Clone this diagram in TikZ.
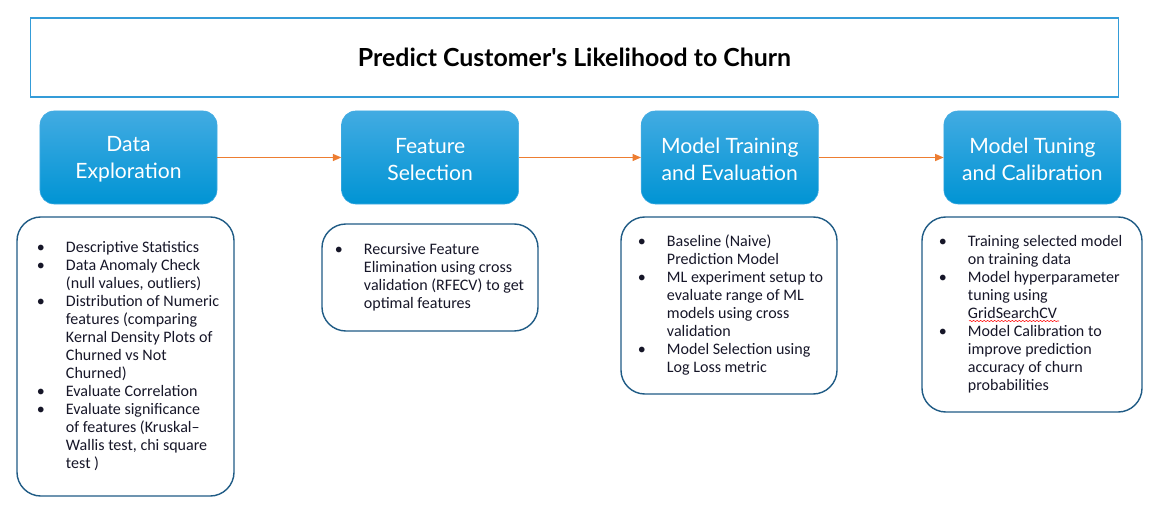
\documentclass[tikz,border=0pt]{standalone}
\usepackage{fontspec}
\setmainfont{Carlito}
\newfontfamily\headfont{Lato}
\usetikzlibrary{arrows.meta,positioning,decorations.pathmorphing}

\definecolor{stageTop}{RGB}{66,171,226}
\definecolor{stageBot}{RGB}{0,148,212}
\definecolor{frameblue}{RGB}{31,91,133}
\definecolor{titleblue}{RGB}{52,156,216}
\definecolor{flowarrow}{RGB}{237,125,49}
\definecolor{bodytext}{RGB}{22,22,40}

% bullet list set as a two-column table of fixed width
\newcommand{\steplist}[2]{\makebox[#1][l]{\begin{tabular}{@{}p{0.725cm}@{}l@{}}#2\end{tabular}}}

\begin{document}
\begin{tikzpicture}[x=0.025cm, y=-0.025cm,
    titlebox/.style={draw=titleblue, line width=0.8pt, minimum width=27.175cm, minimum height=1.975cm,
        font=\headfont\bfseries\fontsize{17.7}{21}\selectfont},
    stage/.style={rounded corners=0.35cm, top color=stageTop, bottom color=stageBot, draw=stageTop,
        minimum width=4.425cm, minimum height=2.325cm, text=white, align=center,
        font=\headfont\fontsize{15}{19}\selectfont},
    detail/.style={draw=frameblue, line width=1pt, rounded corners=0.6cm, inner sep=0pt,
        text=bodytext, font=\fontsize{11.4}{12.8}\selectfont},
    flow/.style={-{Triangle[length=6pt,width=5pt]}, draw=flowarrow, line width=0.8pt}
]
    \useasboundingbox (0,0) rectangle (1160,517);

    % Title
    \node[titlebox] (title) at (574.5,57.5) {Predict Customer's Likelihood to Churn};

    % Stages
    \node[stage] (explore) at (128.5,157.5) {\strut Data\\Exploration};
    \node[stage, right=3.1cm of explore] (select) {\strut Feature\\Selection};
    \node[stage, right=3.05cm of select] (train) {\strut Model Training\\and Evaluation};
    \node[stage, right=3.125cm of train] (tune) {\strut Model Tuning\\and Calibration};

    \draw[flow] (explore) -- (select);
    \draw[flow] (select) -- (train);
    \draw[flow] (train) -- (tune);

    % Details under each stage
    \node[detail, minimum width=5.425cm, minimum height=6.975cm] (exploreinfo) at (125.5,356.5) {\steplist{4.425cm}{%
        \textbullet & Descriptive Statistics\\
        \textbullet & Data Anomaly Check\\
                    & (null values, outliers)\\
        \textbullet & Distribution of Numeric\\
                    & features (comparing\\
                    & Kernal Density Plots of\\
                    & Churned vs Not\\
                    & Churned)\\
        \textbullet & Evaluate Correlation\\
        \textbullet & Evaluate significance\\
                    & of features (Kruskal–\\
                    & Wallis test, chi square\\
                    & test )}};

    \node[detail, minimum width=5.4cm, minimum height=2.675cm] (selectinfo) at (430,277.5) {\steplist{4.75cm}{%
        \textbullet & Recursive Feature\\
                    & Elimination using cross\\
                    & validation (RFECV) to get\\
                    & optimal features}};

    \node[detail, minimum width=5.4cm, minimum height=4.425cm] (traininfo) at (729,305.5) {\steplist{4.55cm}{%
        \textbullet & Baseline (Naive)\\
                    & Prediction Model\\
        \textbullet & ML experiment setup to\\
                    & evaluate range of ML\\
                    & models using cross\\
                    & validation\\
        \textbullet & Model Selection using\\
                    & Log Loss metric}};

    \node[detail, minimum width=5.5cm, minimum height=4.875cm] (tuneinfo) at (1032,314.5) {\steplist{4.65cm}{%
        \textbullet & Training selected model\\
                    & on training data\\
        \textbullet & Model hyperparameter\\
                    & tuning using\\
                    & GridSearchCV\\
        \textbullet & Model Calibration to\\
                    & improve prediction\\
                    & accuracy of churn\\
                    & probabilities}};

    % spell-check squiggle
    \draw[red, line width=0.4pt, decorate, decoration={snake, amplitude=0.4pt, segment length=2.5pt}]
        (969,321) -- (1059,321);
\end{tikzpicture}
\end{document}
